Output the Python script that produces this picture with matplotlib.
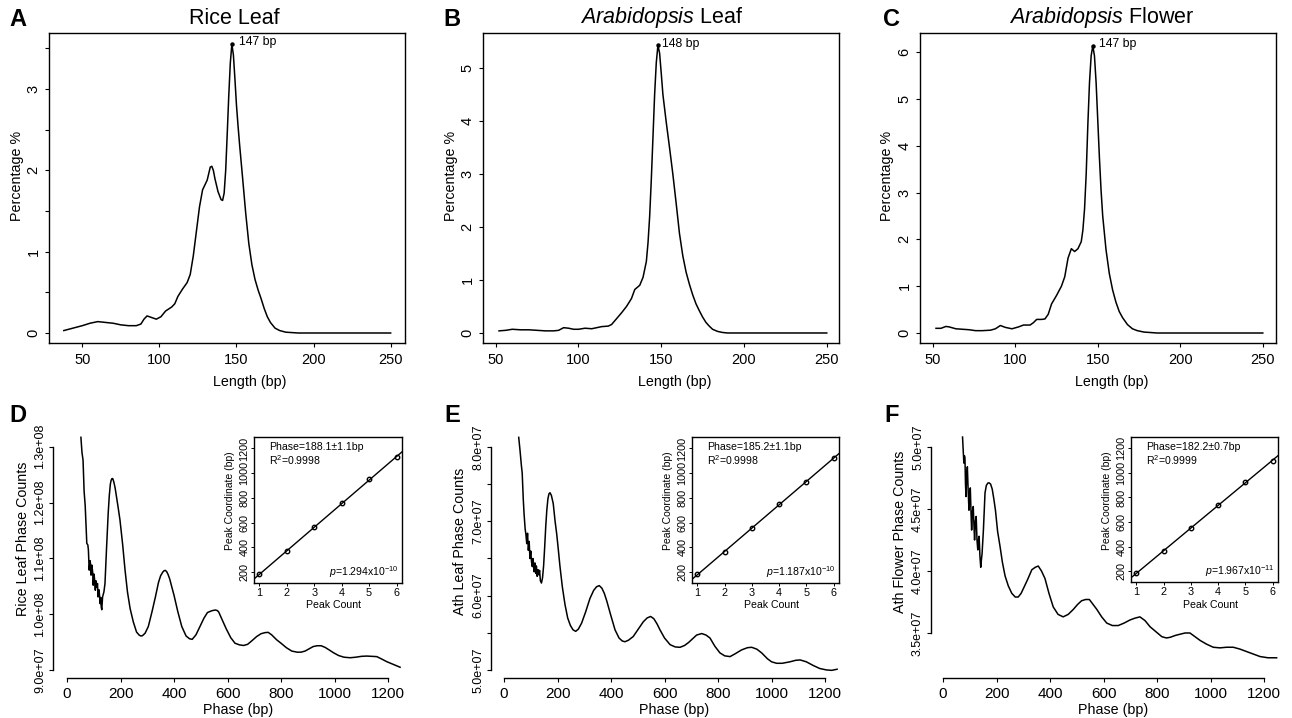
import numpy as np
import matplotlib
matplotlib.use("Agg")
import matplotlib.pyplot as plt

plt.rcParams['font.family'] = ['Liberation Sans', 'DejaVu Sans']
plt.rcParams['mathtext.fontset'] = 'custom'
plt.rcParams['mathtext.rm'] = 'Liberation Sans'
plt.rcParams['mathtext.it'] = 'Liberation Sans:italic'
plt.rcParams['mathtext.bf'] = 'Liberation Sans:bold'

# ---------------- data: fragment length distributions ----------------
len_a = [38, 42, 46, 50, 55, 60, 65, 70, 75, 80, 85, 88, 90, 92, 95, 98, 101, 104, 108, 110,
         112, 115, 118, 120, 122, 124, 126, 128, 130, 131, 132, 133, 134, 135, 136, 138, 140,
         141, 142, 143, 144, 145, 146, 147, 148, 149, 150, 151, 152, 154, 156, 158, 160, 162,
         164, 166, 168, 170, 172, 175, 178, 182, 186, 190, 200, 250]
pct_a = [0.03, 0.05, 0.07, 0.09, 0.12, 0.14, 0.13, 0.12, 0.10, 0.09, 0.09, 0.11, 0.17, 0.21,
         0.19, 0.17, 0.20, 0.27, 0.32, 0.36, 0.45, 0.54, 0.62, 0.72, 0.95, 1.25, 1.55, 1.76,
         1.84, 1.88, 1.96, 2.04, 2.05, 2.0, 1.9, 1.74, 1.64, 1.63, 1.72, 2.0, 2.45, 2.92, 3.32,
         3.55, 3.42, 3.12, 2.8, 2.55, 2.32, 1.9, 1.47, 1.1, 0.84, 0.66, 0.53, 0.42, 0.30, 0.20,
         0.13, 0.06, 0.03, 0.01, 0.005, 0.0, 0.0, 0.0]

len_b = [52, 56, 60, 65, 70, 75, 80, 85, 88, 91, 94, 97, 100, 104, 108, 111, 114, 118, 120,
         123, 126, 129, 132, 134, 137, 139, 141, 142, 143, 144, 145, 146, 147, 148, 149, 150,
         151, 153, 155, 157, 159, 161, 163, 165, 167, 169, 171, 173, 175, 177, 179, 181, 184,
         187, 190, 250]
pct_b = [0.04, 0.05, 0.07, 0.06, 0.06, 0.05, 0.04, 0.04, 0.05, 0.10, 0.09, 0.07, 0.07, 0.09,
         0.08, 0.10, 0.12, 0.13, 0.16, 0.27, 0.38, 0.50, 0.65, 0.82, 0.90, 1.05, 1.35, 1.7,
         2.2, 2.9, 3.7, 4.5, 5.1, 5.43, 5.28, 4.9, 4.5, 3.98, 3.5, 3.0, 2.45, 1.88, 1.46, 1.15,
         0.92, 0.72, 0.55, 0.42, 0.30, 0.20, 0.13, 0.07, 0.03, 0.01, 0.0, 0.0]

len_c = [52, 55, 58, 60, 64, 68, 72, 76, 80, 85, 88, 91, 94, 98, 102, 105, 109, 111, 113, 116,
         118, 120, 122, 125, 128, 130, 132, 134, 136, 138, 140, 141, 142, 143, 144, 145, 146,
         147, 148, 149, 150, 151, 152, 153, 155, 157, 159, 161, 163, 165, 168, 171, 174, 178,
         182, 186, 250]
pct_c = [0.10, 0.10, 0.14, 0.13, 0.09, 0.08, 0.07, 0.05, 0.05, 0.06, 0.09, 0.16, 0.12, 0.09,
         0.13, 0.17, 0.17, 0.22, 0.29, 0.29, 0.30, 0.40, 0.62, 0.80, 1.0, 1.2, 1.6, 1.80, 1.74,
         1.80, 1.95, 2.2, 2.65, 3.4, 4.45, 5.35, 5.92, 6.13, 5.92, 5.35, 4.55, 3.75, 3.05, 2.5,
         1.78, 1.27, 0.92, 0.66, 0.46, 0.33, 0.18, 0.09, 0.05, 0.02, 0.01, 0.0, 0.0]

titles_top = [None, "Arabidopsis", "Arabidopsis"]
titles_top_rest = ["Rice Leaf", " Leaf", " Flower"]
length_ticks = [50, 100, 150, 200, 250]
pct_ticks_a = [0, 0.5, 1, 1.5, 2, 2.5, 3, 3.5]
pct_labels_a = ['0', '', '1', '', '2', '', '3', '']
pct_ticks_b = [0, 1, 2, 3, 4, 5]
pct_labels_b = ['0', '1', '2', '3', '4', '5']
pct_ticks_c = [0, 1, 2, 3, 4, 5, 6]
pct_labels_c = ['0', '1', '2', '3', '4', '5', '6']

# ---------------- data: phase counts (units of 1e6) ----------------
phase_d = [52, 56, 60, 64, 68, 72, 74, 78, 80, 83, 86, 88, 90, 93, 96, 98, 101, 103, 106, 108,
           111, 114, 116, 119, 121, 124, 126, 128, 130, 133, 138, 142, 148, 154, 158, 162, 165,
           168, 171, 175, 180, 190, 198, 208, 217, 226, 236, 248, 260, 270, 276, 282, 292, 304,
           318, 330, 342, 350, 358, 363, 368, 373, 378, 384, 390, 400, 414, 429, 445, 458, 468,
           482, 497, 512, 525, 540, 548, 555, 562, 567, 580, 595, 612, 628, 645, 660, 675, 690,
           709, 725, 740, 752, 765, 784, 800, 820, 840, 860, 875, 890, 905, 920, 935, 950, 965,
           980, 996, 1015, 1035, 1058, 1080, 1100, 1120, 1140, 1158, 1175, 1195, 1220, 1245]
count_d = [131.7, 129.0, 127.6, 122.0, 119.5, 115.0, 112.7, 112.4, 111.5, 107.9, 109.6, 109.0,
           107.0, 108.8, 107.5, 105.2, 107.2, 106.3, 104.3, 106.0, 104.8, 105.5, 103.1, 104.4,
           103.7, 101.9, 103.0, 101.3, 100.8, 103.1, 104.0, 105.5, 112.0, 118.1, 121.2, 123.3,
           124.0, 124.3, 124.3, 123.7, 122.6, 119.5, 116.9, 112.5, 107.9, 104.0, 101.0, 98.6,
           96.8, 96.25, 96.1, 96.15, 96.6, 97.8, 100.5, 103.0, 105.7, 106.9, 107.55, 107.8,
           107.85, 107.6, 107.1, 106.3, 105.2, 103.4, 100.5, 97.8, 96.1, 95.6, 95.5, 96.3, 97.8,
           99.3, 100.3, 100.6, 100.7, 100.75, 100.65, 100.4, 99.0, 97.4, 95.8, 94.8, 94.5, 94.4,
           94.6, 95.2, 96.0, 96.5, 96.7, 96.75, 96.3, 95.4, 94.8, 94.0, 93.4, 93.2, 93.2, 93.4,
           93.8, 94.2, 94.35, 94.35, 94.05, 93.6, 93.1, 92.6, 92.3, 92.2, 92.3, 92.45, 92.5,
           92.45, 92.4, 92.0, 91.5, 91.0, 90.5]

phase_e = [55, 60, 65, 68, 72, 75, 79, 82, 85, 88, 91, 94, 97, 100, 103, 106, 108, 111, 113,
           116, 119, 121, 124, 127, 130, 133, 136, 140, 144, 148, 152, 156, 160, 164, 168, 172,
           177, 184, 191, 197, 203, 209, 218, 228, 238, 248, 258, 268, 278, 290, 305, 321, 335,
           346, 356, 366, 375, 384, 398, 415, 430, 442, 452, 465, 483, 500, 521, 535, 548, 560,
           572, 583, 600, 621, 640, 658, 675, 690, 705, 720, 739, 755, 770, 788, 807, 825, 845,
           865, 888, 910, 926, 945, 963, 985, 1000, 1019, 1040, 1069, 1090, 1107, 1130, 1156,
           1180, 1206, 1225, 1245]
count_e = [81.3, 79.5, 77.5, 76.5, 73.0, 71.0, 69.0, 68.2, 67.0, 68.4, 66.1, 67.3, 65.0, 66.0,
           64.5, 63.9, 65.0, 64.2, 63.2, 64.4, 63.0, 64.0, 62.6, 63.5, 62.8, 63.4, 62.0, 61.7,
           62.4, 64.0, 66.5, 69.3, 71.5, 73.0, 73.7, 73.85, 73.5, 72.4, 70.0, 68.3, 66.2, 64.0,
           61.2, 58.8, 57.0, 56.0, 55.4, 55.2, 55.5, 56.3, 57.8, 59.6, 60.7, 61.2, 61.35, 61.0,
           60.3, 59.3, 57.5, 55.4, 54.3, 53.9, 53.8, 54.0, 54.5, 55.4, 56.5, 57.0, 57.2, 56.9,
           56.2, 55.4, 54.3, 53.4, 53.1, 53.05, 53.3, 53.7, 54.2, 54.7, 54.9, 54.7, 54.3, 53.2,
           52.3, 51.9, 51.8, 52.2, 52.7, 53.0, 53.05, 52.8, 52.3, 51.5, 51.1, 50.9, 50.9, 51.1,
           51.3, 51.35, 51.1, 50.6, 50.2, 50.0, 49.95, 50.1]

phase_f = [73, 76, 78, 80, 82, 84, 86, 88, 91, 94, 97, 100, 102, 105, 107, 110, 113, 116, 118,
           121, 124, 127, 130, 133, 135, 138, 141, 144, 146, 151, 157, 162, 168, 173, 178, 184,
           190, 196, 204, 213, 222, 232, 244, 257, 270, 281, 292, 303, 316, 332, 345, 356, 368,
           381, 396, 412, 430, 449, 468, 487, 503, 518, 533, 547, 561, 575, 593, 612, 633, 655,
           677, 699, 718, 736, 755, 774, 796, 818, 835, 849, 868, 886, 905, 923, 942, 961, 985,
           1010, 1035, 1060, 1085, 1110, 1135, 1160, 1185, 1215, 1247]
count_f = [50.8, 49.5, 48.7, 49.3, 49.1, 47.0, 46.0, 47.5, 48.4, 46.5, 44.9, 46.2, 46.7, 44.5,
           43.3, 44.8, 45.2, 43.5, 42.5, 44.0, 44.4, 42.5, 41.7, 42.6, 42.8, 41.2, 40.3, 41.0,
           41.4, 43.3, 46.3, 46.9, 47.1, 47.1, 47.0, 46.6, 45.8, 44.9, 43.2, 42.0, 40.7, 39.6,
           38.8, 38.2, 37.9, 37.9, 38.2, 38.7, 39.3, 40.1, 40.3, 40.4, 40.0, 39.4, 38.2, 37.1,
           36.5, 36.3, 36.5, 36.9, 37.3, 37.6, 37.7, 37.7, 37.3, 36.9, 36.3, 35.8, 35.6, 35.6,
           35.8, 36.05, 36.2, 36.3, 36.0, 35.5, 35.1, 34.7, 34.6, 34.65, 34.8, 34.9, 35.0, 35.0,
           34.7, 34.4, 34.1, 33.85, 33.8, 33.85, 33.85, 33.7, 33.5, 33.3, 33.1, 33.0, 33.0]

phase_ticks = [0, 200, 400, 600, 800, 1000, 1200]
count_ticks_d = [90, 100, 110, 120, 130]
count_labels_d = ['9.0e+07', '1.0e+08', '1.1e+08', '1.2e+08', '1.3e+08']
count_ticks_e = [50, 55, 60, 65, 70, 75, 80]
count_labels_e = ['5.0e+07', '', '6.0e+07', '', '7.0e+07', '', '8.0e+07']
count_ticks_f = [35, 40, 45, 50]
count_labels_f = ['3.5e+07', '4.0e+07', '4.5e+07', '5.0e+07']
ylabels_bottom = ["Rice Leaf Phase Counts", "Ath Leaf Phase Counts", "Ath Flower Phase Counts"]

# ---------------- data: inset peak regression ----------------
peak_count = [1, 2, 3, 4, 5, 6]
peak_coord_d = [180, 370, 565, 755, 950, 1128]
peak_coord_e = [180, 362, 557, 748, 932, 1120]
peak_coord_f = [181, 365, 550, 739, 926, 1097]
phase_txt = ["Phase=188.1\u00b11.1bp", "Phase=185.2\u00b11.1bp", "Phase=182.2\u00b10.7bp"]
r2_txt = ["0.9998", "0.9998", "0.9999"]
p_mant = ["1.294", "1.187", "1.967"]
p_exp = ["-10", "-10", "-11"]
coord_ticks = [200, 400, 600, 800, 1000, 1200]

# ---------------- figure ----------------
W, H = 1292, 718
fig = plt.figure(figsize=(W / 100, H / 100), dpi=100)


def rect(l, t, r, b):
    return [l / W, 1 - b / H, (r - l) / W, (b - t) / H]


def ftext(x, y, s, **kw):
    fig.text(x / W, 1 - y / H, s, **kw)


LW = 1.1

# ---- top row ----
top_specs = [
    dict(x=len_a, y=pct_a, box=(49, 33, 405, 343), xlim=(28.4, 259.3), ylim=(-0.123, 3.689),
         yt=pct_ticks_a, yl=pct_labels_a, letter='A', lx=18, title_x=234, ylab_x=17,
         xlab_x=250, off=(5, 1.5)),
    dict(x=len_b, y=pct_b, box=(483, 33, 839, 343), xlim=(42.3, 257.4), ylim=(-0.189, 5.66),
         yt=pct_ticks_b, yl=pct_labels_b, letter='B', lx=452, title_x=662, ylab_x=451,
         xlab_x=675, off=(3, 1)),
    dict(x=len_c, y=pct_c, box=(920, 33, 1276, 343), xlim=(42.3, 258.0), ylim=(-0.2135, 6.406),
         yt=pct_ticks_c, yl=pct_labels_c, letter='C', lx=892, title_x=1102, ylab_x=887,
         xlab_x=1112, off=(4.5, 1.5)),
]

for i, s in enumerate(top_specs):
    ax = fig.add_axes(rect(*s['box']))
    ax.plot(s['x'], s['y'], color='k', lw=LW, solid_joinstyle='round')
    ax.set_xlim(*s['xlim'])
    ax.set_ylim(*s['ylim'])
    ax.set_xticks(length_ticks)
    ax.set_yticks(s['yt'])
    ax.set_yticklabels(s['yl'])
    ax.tick_params(direction='out', length=3, width=0.8, labelsize=10.5, pad=4)
    ax.tick_params(axis='y', labelrotation=90, pad=3)
    for lab in ax.get_yticklabels():
        lab.set_va('center')
    for sp in ax.spines.values():
        sp.set_linewidth(1.0)
    k = int(np.argmax(s['y']))
    px, py = s['x'][k], s['y'][k]
    ax.plot([px], [py], 'o', ms=2.2, color='k')
    ax.annotate(f"{px} bp", xy=(px, py), xytext=s['off'], textcoords='offset points',
                ha='left', va='center', fontsize=8.8)
    ftext(s['lx'], 20, s['letter'], fontsize=17, fontweight='bold', ha='center', va='center')
    if titles_top[i] is None:
        ttl = titles_top_rest[i]
    else:
        ttl = r"$\mathit{" + titles_top[i] + "}$" + titles_top_rest[i]
    ftext(s['title_x'], 18, ttl, fontsize=15.5, ha='center', va='center')
    ftext(s['ylab_x'], 176, "Percentage %", fontsize=10.3, rotation=90, ha='center', va='center')
    ftext(s['xlab_x'], 382, "Length (bp)", fontsize=10.3, ha='center', va='center')

# ---- bottom row ----
bot_specs = [
    dict(x=phase_d, y=count_d, box=(53, 428, 414, 678), xlim=(-52.3, 1297), ylim=(88.57, 133.37),
         yt=count_ticks_d, yl=count_labels_d, letter='D', lx=18, ylab_x=23, ylab_y=539,
         xlab_x=238, inset=(254, 437, 402, 583), pc=peak_coord_d),
    dict(x=phase_e, y=count_e, box=(491, 428, 851, 678), xlim=(-48.6, 1297), ylim=(48.92, 82.56),
         yt=count_ticks_e, yl=count_labels_e, letter='E', lx=452, ylab_x=460, ylab_y=541,
         xlab_x=674, inset=(692, 437, 839, 583), pc=peak_coord_e),
    dict(x=phase_f, y=count_f, box=(931, 428, 1290, 678), xlim=(-44.9, 1297), ylim=(31.37, 51.53),
         yt=count_ticks_f, yl=count_labels_f, letter='F', lx=892, ylab_x=900, ylab_y=532,
         xlab_x=1113, inset=(1131, 437, 1278, 582), pc=peak_coord_f),
]

for i, s in enumerate(bot_specs):
    ax = fig.add_axes(rect(*s['box']))
    ax.plot(s['x'], s['y'], color='k', lw=LW, solid_joinstyle='round')
    ax.set_xlim(*s['xlim'])
    ax.set_ylim(*s['ylim'])
    ax.spines['top'].set_visible(False)
    ax.spines['right'].set_visible(False)
    ax.spines['bottom'].set_bounds(phase_ticks[0], phase_ticks[-1])
    ax.spines['left'].set_bounds(s['yt'][0], s['yt'][-1])
    for sp in ('left', 'bottom'):
        ax.spines[sp].set_linewidth(1.0)
    ax.set_xticks(phase_ticks)
    ax.set_yticks(s['yt'])
    ax.set_yticklabels(s['yl'])
    ax.tick_params(direction='out', length=3, width=0.8)
    ax.tick_params(axis='x', labelsize=11, pad=3.5)
    ax.tick_params(axis='y', labelsize=9, labelrotation=90, pad=2)
    for lab in ax.get_yticklabels():
        lab.set_va('center')
    ftext(s['lx'], 415, s['letter'], fontsize=17, fontweight='bold', ha='center', va='center')
    ftext(s['ylab_x'], s['ylab_y'], ylabels_bottom[i], fontsize=10.3, rotation=90,
          ha='center', va='center')
    ftext(s['xlab_x'], 710, "Phase (bp)", fontsize=10.3, ha='center', va='center')

    # inset
    l, t, r, b = s['inset']
    ia = fig.add_axes(rect(l, t, r, b))
    ia.plot(peak_count, s['pc'], 'o', ms=3.2, mfc='none', mec='k', mew=1.0)
    m, c0 = np.polyfit(peak_count, s['pc'], 1)
    ia.axline((0, c0), slope=m, color='k', lw=1.0)
    ia.set_xlim(0.8, 6.2)
    ia.set_ylim(111, 1293)
    ia.set_xticks(peak_count)
    ia.set_yticks(coord_ticks)
    ia.tick_params(direction='out', length=2.2, width=0.7, labelsize=7.8, pad=1.5)
    ia.tick_params(axis='y', labelrotation=90, pad=1.2)
    for lab in ia.get_yticklabels():
        lab.set_va('center')
    for sp in ia.spines.values():
        sp.set_linewidth(1.0)
    ftext(l + 15, t + 10, phase_txt[i], fontsize=7.6, ha='left', va='center')
    ftext(l + 15, t + 23, r"R$^2$=" + r2_txt[i], fontsize=7.6, ha='left', va='center')
    ftext(r - 3, b - 11, r"$\mathit{p}$=" + p_mant[i] + r"x10$^{" + p_exp[i] + "}$",
          fontsize=7.6, ha='right', va='center')
    ftext((l + r) / 2 + 6, 605, "Peak Count", fontsize=7.6, ha='center', va='center')
    ftext(l - 24, t + 64, "Peak Coordinate (bp)", fontsize=7.5, rotation=90,
          ha='center', va='center')

fig.savefig("out.png", dpi=100)
